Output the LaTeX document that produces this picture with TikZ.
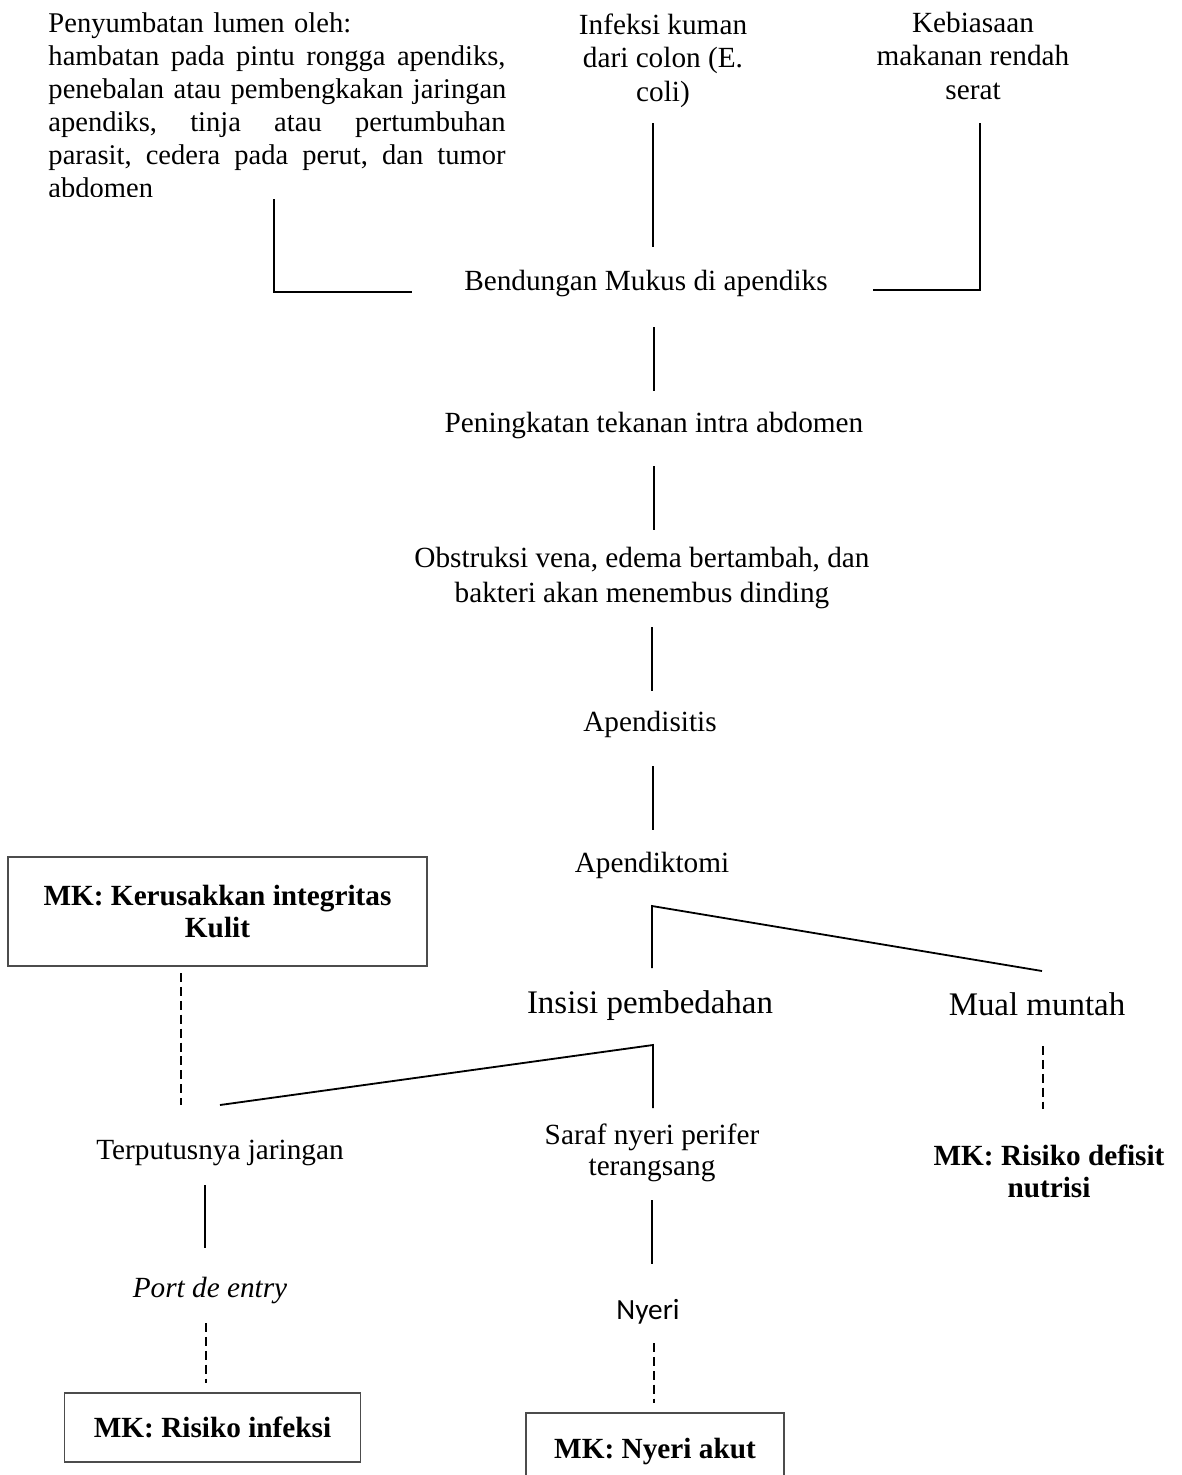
\documentclass[tikz,border=0pt]{standalone}
\usepackage{fontspec}
\setmainfont{Liberation Serif}
\newfontfamily\calibrifont{Carlito}
\usetikzlibrary{calc}

\begin{document}
\begin{tikzpicture}[x=0.41pt, y=-0.41pt]
        % Sheet size, one unit is one pixel of the page
        \useasboundingbox (0, 0) rectangle (1181, 1475);
        \clip (0, 0) rectangle (1181, 1475);
        \pgfmathsetmacro{\lumw}{187.4}

        \tikzset{
            txt/.style={inner sep=0pt, anchor=base, align=center,
            font=\fontsize{12}{13.6}\selectfont},
            big/.style={txt, font=\fontsize{13.5}{16}\selectfont},
            mk/.style={txt, font=\fontsize{12}{13.1}\selectfont\bfseries},
            mkbox/.style={mk, anchor=center, draw=black!70, line width=0.45pt},
            link/.style={line width=0.75pt},
            dlink/.style={line width=0.75pt, dash pattern=on 3.7pt off 2pt},
        }

        % Causes on top, the long one is cut at the bottom
        % (base of a node with several lines is its last line)
        \begin{scope}
            \clip (0, 0) rectangle (1181, 196);
            \node[txt, anchor=base west, align=left, text width=\lumw pt,
            font=\fontsize{11.7}{13.6}\selectfont]
            (LUM) at (48, 32) {Penyumbatan lumen oleh:\\
            \leavevmode\hbox to \lumw pt{hambatan\ \hfill pada\ \hfill
            pintu\ \hfill rongga\ \hfill apendiks,}\\
            \leavevmode\hbox to \lumw pt{penebalan\ \hfill atau\ \hfill
            pembengkakan\ \hfill jaringan}\\
            \leavevmode\hbox to \lumw pt{apendiks,\ \hfill tinja\ \hfill
            atau\ \hfill pertumbuhan}\\
            \leavevmode\hbox to \lumw pt{parasit,\ \hfill cedera\ \hfill
            pada\ \hfill perut,\ \hfill dan\ \hfill tumor}\\
            abdomen};
        \end{scope}
        \node[txt] (INF) at (663, 101) {Infeksi kuman\\dari colon (E.\\coli)};
        \node[txt] (KEB) at (973, 99) {Kebiasaan\\makanan rendah\\serat};

        % Main chain
        \node[txt] (BEND) at (646, 290) {Bendungan Mukus di apendiks};
        \node[txt] (TEK) at (654, 432) {Peningkatan tekanan intra abdomen};
        \node[txt, font=\fontsize{12}{14.2}\selectfont] (OBS) at (642, 602)
        {Obstruksi vena, edema bertambah, dan\\bakteri akan menembus dinding};
        \node[txt] (APS) at (650, 731) {Apendisitis};
        \node[txt] (APT) at (652, 872) {Apendiktomi};

        % After the operation
        \node[mkbox, minimum width=171.8pt, minimum height=44.7pt]
        (KUL) at (217.5, 911.5) {MK: Kerusakkan integritas\\Kulit};
        \node[big] (INS) at (650, 1013) {Insisi pembedahan};
        \node[big] (MUAL) at (1037, 1015) {Mual muntah};
        \node[txt] (TERP) at (220, 1159) {Terputusnya jaringan};
        \node[txt, font=\fontsize{12}{12.4}\selectfont] (SARAF) at (652, 1175)
        {Saraf nyeri perifer\\terangsang};
        \node[mk, font=\fontsize{12}{12.8}\selectfont\bfseries] (DEF)
        at (1049, 1197) {MK: Risiko defisit\\nutrisi};
        \node[txt, font=\fontsize{12}{13.6}\selectfont\itshape] (PORT)
        at (210, 1297) {Port de entry};
        \node[txt, font=\fontsize{12}{13.6}\calibrifont] (NYR) at (648, 1319)
        {Nyeri};
        \node[mkbox, minimum width=121pt, minimum height=28.3pt]
        (RINF) at (212.5, 1427.5) {MK: Risiko infeksi};
        \node[mkbox, minimum width=105.8pt, minimum height=31.2pt]
        (AKUT) at (655, 1451) {MK: Nyeri akut};

        % Line ends
        \coordinate (A1) at (274, 199);
        \coordinate (A2) at (274, 292);
        \coordinate (A3) at (412, 292);
        \coordinate (B1) at (653, 123);
        \coordinate (B2) at (653, 247);
        \coordinate (C1) at (980, 123);
        \coordinate (C2) at (980, 290);
        \coordinate (C3) at (873, 290);

        \coordinate (D1) at (654, 327);
        \coordinate (D2) at (654, 391);
        \coordinate (D3) at (654, 466);
        \coordinate (D4) at (654, 530);
        \coordinate (D5) at (652, 627);
        \coordinate (D6) at (652, 691);
        \coordinate (D7) at (653, 766);
        \coordinate (D8) at (653, 830);

        \coordinate (J1) at (652, 906);
        \coordinate (E1) at (652, 968);
        \coordinate (E2) at (1042, 971);
        \coordinate (J2) at (653, 1045);
        \coordinate (F1) at (653, 1108);
        \coordinate (F2) at (220, 1105);

        \coordinate (G1) at (181, 973);
        \coordinate (G2) at (181, 1105);
        \coordinate (H1) at (1043, 1046);
        \coordinate (H2) at (1043, 1109);
        \coordinate (K1) at (205, 1185);
        \coordinate (K2) at (205, 1248);
        \coordinate (L1) at (652, 1200);
        \coordinate (L2) at (652, 1264);
        \coordinate (M1) at (206, 1323);
        \coordinate (M2) at (206, 1383);
        \coordinate (N1) at (654, 1343);
        \coordinate (N2) at (654, 1403);

        \begin{scope}[link]
            \draw (A1) -- (A2) -- (A3);
            \draw (B1) -- (B2);
            \draw (C1) -- (C2) -- (C3);

            \draw (D1) -- (D2);
            \draw (D3) -- (D4);
            \draw (D5) -- (D6);
            \draw (D7) -- (D8);

            \draw (E1) -- (J1) -- (E2);
            \draw (F1) -- (J2) -- (F2);
            \draw (K1) -- (K2);
            \draw (L1) -- (L2);
        \end{scope}

        \begin{scope}[dlink]
            \draw (G1) -- (G2);
            \draw (H1) -- (H2);
            \draw (M1) -- (M2);
            \draw (N1) -- (N2);
        \end{scope}

\end{tikzpicture}
\end{document}
